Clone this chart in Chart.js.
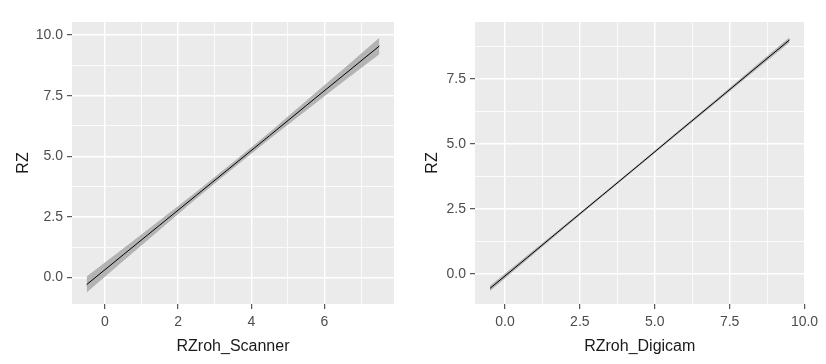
<!DOCTYPE html>
<html>
<head>
<meta charset="utf-8">
<script src="https://cdn.jsdelivr.net/npm/chart.js@4/dist/chart.umd.min.js"></script>
<style>
html,body{margin:0;padding:0;background:#fff;}
#wrap{position:relative;width:826px;height:364px;}
.pane{position:absolute;top:0;width:413px;height:364px;}
</style>
</head>
<body>
<div id="wrap">
  <div class="pane" style="left:0"><canvas id="cScanner"></canvas></div>
  <div class="pane" style="left:413px"><canvas id="cDigicam"></canvas></div>
</div>
<script>
// ── data ──
// left panel: RZ ~ RZroh_Scanner
var scanX     =[-0.5, 0.5, 1.5, 2.5, 3.5, 4.5, 5.5, 6.5, 7.5];
var scanFit   =[-0.30,0.93,2.16,3.39,4.62,5.85,7.09,8.32,9.55];
var scanLow   =[-0.63,0.67,1.96,3.25,4.49,5.71,6.89,8.06,9.21];
var scanHigh  =[ 0.03,1.19,2.36,3.53,4.75,5.99,7.29,8.58,9.89];
var scanXTicks=[0,2,4,6];
var scanXMinor=[1,3,5,7];
var scanYTicks=[0,2.5,5,7.5,10];
var scanYMinor=[1.25,3.75,6.25,8.75];

// right panel: RZ ~ RZroh_Digicam
var camX      =[-0.5, 0.75,2.0, 3.25,4.5, 5.75,7.0, 8.25,9.5];
var camFit    =[-0.55,0.64,1.84,3.03,4.22,5.42,6.61,7.81,9.00];
var camLow    =[-0.65,0.56,1.78,2.98,4.17,5.37,6.55,7.73,8.90];
var camHigh   =[-0.45,0.72,1.90,3.08,4.27,5.47,6.67,7.89,9.10];
var camXTicks =[0,2.5,5,7.5,10];
var camXMinor =[1.25,3.75,6.25,8.75];
var camYTicks =[0,2.5,5,7.5];
var camYMinor =[1.25,3.75,6.25,8.75];

var FONT="'Liberation Sans', Arial, sans-serif";
var PANEL="#EBEBEB", RIBBON="#B3B3B3";

function pts(xs,ys){return xs.map(function(x,i){return{x:x,y:ys[i]};});}

var panelBg={
  id:"panelBg",
  beforeDraw:function(ch){
    var a=ch.chartArea,ctx=ch.ctx;
    ctx.save();ctx.fillStyle=PANEL;
    ctx.fillRect(a.left,a.top,a.right-a.left,a.bottom-a.top);
    ctx.restore();
  }
};

function axis(o){
  var major=o.major,minor=o.minor,all=major.concat(minor).sort(function(a,b){return a-b;});
  function isMajor(v){return major.indexOf(v)!==-1;}
  return{
    type:"linear",
    position:o.pos,
    min:o.min,max:o.max,
    afterBuildTicks:function(s){s.ticks=all.map(function(v){return{value:v};});},
    afterFit:function(s){if(o.pos==="left")s.width=o.size;else s.height=o.size;},
    border:{display:false},
    grid:{
      color:"#ffffff",
      lineWidth:function(c){return c.tick&&isMajor(c.tick.value)?1.4:0.8;},
      tickColor:function(c){return c.tick&&isMajor(c.tick.value)?"#333333":"rgba(0,0,0,0)";},
      tickLength:5,
      tickWidth:1
    },
    ticks:{
      autoSkip:false,maxRotation:0,
      padding:o.pos==="left"?4:5,
      color:"#4D4D4D",
      font:{family:FONT,size:14},
      callback:function(v){return isMajor(v)?o.fmt(v):"";}
    },
    title:{
      display:true,text:o.title,color:"#1a1a1a",
      font:{family:FONT,size:16},
      padding:o.pos==="left"?{top:o.tpad,bottom:0}:{top:0,bottom:8}
    }
  };
}

function build(id,d){
  var el=document.getElementById(id);
  el.width=413;el.height=364;
  new Chart(el,{
    type:"line",
    data:{
      datasets:[
        {label:"fit",data:pts(d.x,d.fit),borderColor:"#000000",borderWidth:1,pointRadius:0,tension:0,fill:false},
        {label:"upper",data:pts(d.x,d.high),borderWidth:0,borderColor:"rgba(0,0,0,0)",backgroundColor:RIBBON,pointRadius:0,tension:0,fill:"+1"},
        {label:"lower",data:pts(d.x,d.low),borderWidth:0,borderColor:"rgba(0,0,0,0)",pointRadius:0,tension:0,fill:false}
      ]
    },
    options:{
      responsive:false,animation:false,devicePixelRatio:1,
      layout:{padding:{left:0,top:22,right:d.padRight,bottom:0}},
      plugins:{legend:{display:false},tooltip:{enabled:false}},
      scales:{
        x:axis({pos:"bottom",min:d.xmin,max:d.xmax,major:d.xt,minor:d.xm,size:60,title:d.xtitle,fmt:d.xfmt}),
        y:axis({pos:"left",min:d.ymin,max:d.ymax,major:d.yt,minor:d.ym,size:d.ySize,title:"RZ",tpad:d.tpad,fmt:function(v){return v.toFixed(1);}})
      }
    },
    plugins:[panelBg]
  });
}

build("cScanner",{
  x:scanX,fit:scanFit,low:scanLow,high:scanHigh,
  xmin:-0.9,xmax:7.9,ymin:-1.10,ymax:10.54,
  xt:scanXTicks,xm:scanXMinor,yt:scanYTicks,ym:scanYMinor,
  xtitle:"RZroh_Scanner",xfmt:function(v){return String(v);},
  padRight:19,ySize:72,tpad:14
});
build("cDigicam",{
  x:camX,fit:camFit,low:camLow,high:camHigh,
  xmin:-1.0,xmax:10.0,ymin:-1.15,ymax:9.69,
  xt:camXTicks,xm:camXMinor,yt:camYTicks,ym:camYMinor,
  xtitle:"RZroh_Digicam",xfmt:function(v){return v.toFixed(1);},
  padRight:21.5,ySize:62,tpad:10
});
</script>
</body>
</html>
